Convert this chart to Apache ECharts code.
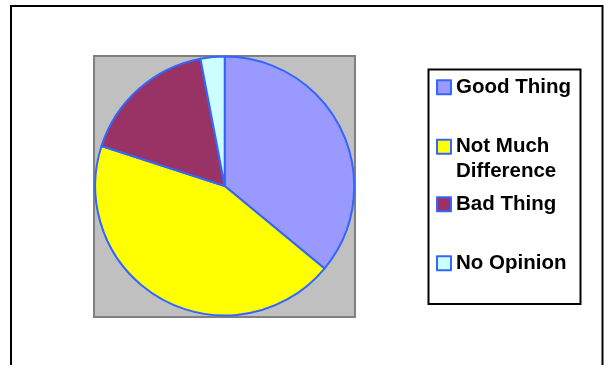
<!DOCTYPE html>
<html>
<head>
<meta charset="utf-8">
<style>
html,body{margin:0;padding:0;background:#fff;}
#chart{width:604px;height:365px;}
</style>
<script src="https://cdn.jsdelivr.net/npm/echarts@6/dist/echarts.min.js"></script>
</head>
<body>
<div id="chart"></div>
<script>
const categories = ['Good Thing', 'Not Much Difference', 'Bad Thing', 'No Opinion'];
const legendLabels = ['Good Thing', ' \nNot Much\nDifference', 'Bad Thing', 'No Opinion'];
const values = [36, 44, 17, 3];
const colors = ['#9999FF', '#FFFF00', '#993366', '#CCFFFF'];

const chart = echarts.init(document.getElementById('chart'), null, {renderer: 'canvas'});
const legendTops = [75, 110, 192, 251];
const fontFamily = 'Liberation Sans, Arial, sans-serif';

const legends = categories.map((name, i) => ({
  data: [name],
  left: 436,
  top: legendTops[i],
  padding: 0,
  icon: 'rect',
  itemWidth: 14,
  itemHeight: 14,
  itemGap: 0,
  selectedMode: false,
  itemStyle: {borderColor: '#3366FF', borderWidth: 2},
  formatter: () => legendLabels[i],
  textStyle: {
    fontFamily: fontFamily,
    fontWeight: 'bold',
    fontSize: 20.5,
    color: '#000',
    lineHeight: 24.5
  }
}));

chart.setOption({
  animation: false,
  backgroundColor: '#fff',
  graphic: [
    {type: 'rect', shape: {x: 11, y: 6, width: 591.5, height: 420}, style: {fill: null, stroke: '#000', lineWidth: 2}, silent: true},
    {type: 'rect', shape: {x: 94, y: 56, width: 261, height: 261}, style: {fill: '#C0C0C0', stroke: '#808080', lineWidth: 2}, silent: true, z: -1},
    {type: 'rect', shape: {x: 428.5, y: 69.5, width: 152, height: 234.5}, style: {fill: '#fff', stroke: '#000', lineWidth: 2}, silent: true, z: -1}
  ],
  legend: legends,
  series: [{
    type: 'pie',
    center: [224.7, 186],
    radius: 129.5,
    startAngle: 90,
    clockwise: true,
    label: {show: false},
    labelLine: {show: false},
    emphasis: {disabled: true},
    itemStyle: {borderColor: '#3366FF', borderWidth: 2},
    data: categories.map((c, i) => ({name: c, value: values[i], itemStyle: {color: colors[i]}}))
  }]
});
</script>
</body>
</html>
